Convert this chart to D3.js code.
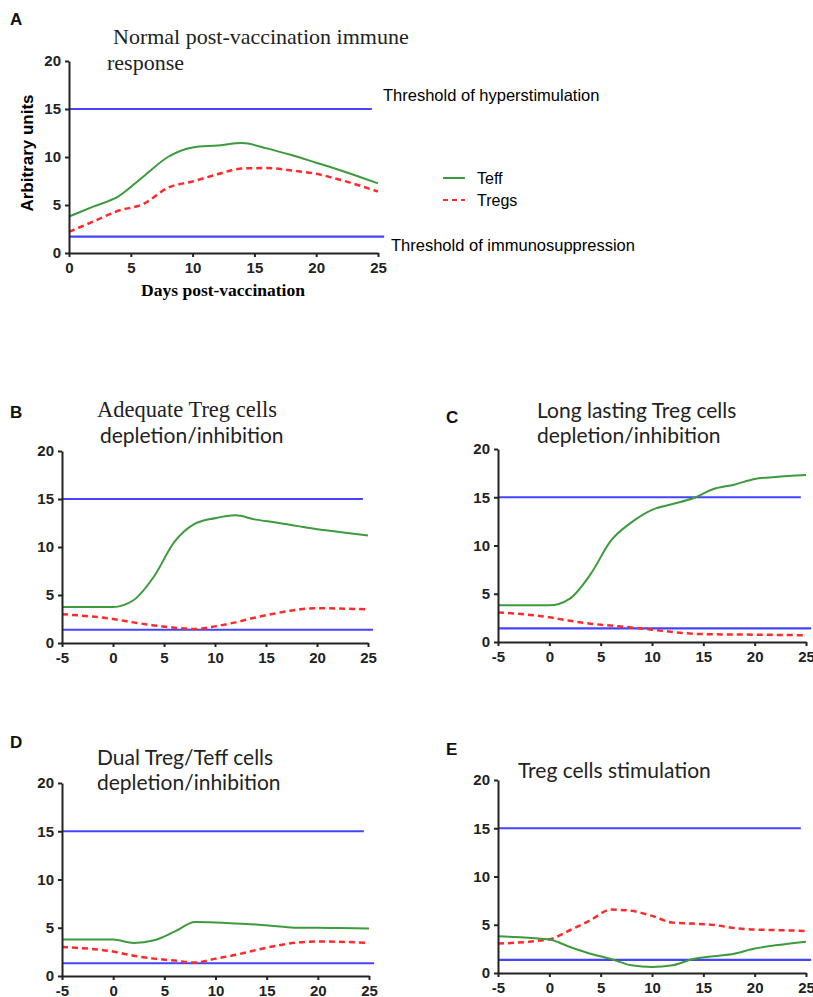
<!DOCTYPE html>
<html>
<head>
<meta charset="utf-8">
<script src="https://cdn.jsdelivr.net/npm/d3@7"></script>
<style>
  body { margin: 0; background: #fff; }
  svg { display: block; }
  .tick line, .domain { stroke: #222; stroke-width: 2; }
</style>
</head>
<body>
<div id="chart"></div>
<script>
// days sampled on every curve
const daysA = [0, 2, 4, 6, 8, 10, 12, 14, 16, 18, 20, 22, 25];
const days = [-5, 0, 2, 4, 6, 8, 10, 12, 14, 16, 18, 20, 22, 25];

// A - normal response
const teffA  = [3.8, 4.85, 5.9, 7.95, 10.0, 11.0, 11.2, 11.45, 10.9, 10.2, 9.4, 8.6, 7.25];
const tregsA = [2.2, 3.3, 4.4, 5.1, 6.8, 7.45, 8.2, 8.8, 8.85, 8.6, 8.25, 7.6, 6.4];
// B - adequate depletion
const teffB  = [3.75, 3.75, 4.45, 6.9, 10.5, 12.4, 13.0, 13.3, 12.85, 12.55, 12.2, 11.85, 11.6, 11.2];
const tregsB = [3.0, 2.5, 2.15, 1.83, 1.6, 1.45, 1.73, 2.15, 2.66, 3.1, 3.46, 3.63, 3.6, 3.5];
// C - long lasting depletion
const teffC  = [3.8, 3.8, 4.5, 7.0, 10.5, 12.4, 13.7, 14.3, 14.9, 15.85, 16.3, 16.9, 17.1, 17.3];
const tregsC = [3.07, 2.56, 2.2, 1.9, 1.7, 1.5, 1.28, 1.04, 0.86, 0.8, 0.78, 0.76, 0.74, 0.69];
// D - dual depletion
const teffD  = [3.78, 3.78, 3.43, 3.7, 4.6, 5.6, 5.55, 5.45, 5.34, 5.16, 5.0, 5.0, 4.97, 4.92];
const tregsD = [3.0, 2.53, 2.1, 1.8, 1.6, 1.39, 1.8, 2.2, 2.7, 3.15, 3.47, 3.57, 3.55, 3.43];
// E - Treg stimulation
const teffE  = [3.8, 3.46, 2.7, 2.0, 1.45, 0.8, 0.62, 0.8, 1.45, 1.73, 2.0, 2.53, 2.87, 3.25];
const tregsE = [3.05, 3.5, 4.43, 5.47, 6.57, 6.44, 5.92, 5.22, 5.12, 4.98, 4.67, 4.5, 4.45, 4.36];

const hyperThreshold = 15;
const immunoThreshold = [1.7, 1.38, 1.42, 1.32, 1.35];
const yTicks = [0, 5, 10, 15, 20];
const xTicksA = [0, 5, 10, 15, 20, 25];
const xTicks = [-5, 0, 5, 10, 15, 20, 25];

const green = "#3d9a3d", red = "#ff2a2a", blue = "#4444ff";

const svg = d3.select("#chart").append("svg")
    .attr("width", 813)
    .attr("height", 997);

// panel boxes in page pixels (plot area only)
const panels = [
  { id: "A", x: daysA, teff: teffA, tregs: tregsA, ticks: xTicksA, dom: [0, 25],  left: 69,  right: 378, top: 61,  bottom: 253 },
  { id: "B", x: days,  teff: teffB, tregs: tregsB, ticks: xTicks,  dom: [-5, 25], left: 62,  right: 368, top: 451, bottom: 643 },
  { id: "C", x: days,  teff: teffC, tregs: tregsC, ticks: xTicks,  dom: [-5, 25], left: 498, right: 806, top: 449, bottom: 642 },
  { id: "D", x: days,  teff: teffD, tregs: tregsD, ticks: xTicks,  dom: [-5, 25], left: 62,  right: 369, top: 783, bottom: 976 },
  { id: "E", x: days,  teff: teffE, tregs: tregsE, ticks: xTicks,  dom: [-5, 25], left: 498, right: 806, top: 780, bottom: 973 }
];

function styleTicks(sel) {
    sel.selectAll(".tick text")
        .style("font-family", "Liberation Sans, Arial, sans-serif")
        .style("font-weight", "bold")
        .style("font-size", "15px")
        .style("fill", "#222");
}

panels.forEach((p, i) => {
    const x = d3.scaleLinear().domain(p.dom).range([p.left, p.right]);
    const y = d3.scaleLinear().domain([0, 20]).range([p.bottom, p.top]);
    const g = svg.append("g");

    // threshold lines
    g.append("line")
        .attr("x1", x(p.dom[0])).attr("x2", x(24.5))
        .attr("y1", y(hyperThreshold)).attr("y2", y(hyperThreshold))
        .attr("stroke", blue).attr("stroke-width", 2);
    g.append("line")
        .attr("x1", x(p.dom[0])).attr("x2", x(25.5))
        .attr("y1", y(immunoThreshold[i])).attr("y2", y(immunoThreshold[i]))
        .attr("stroke", blue).attr("stroke-width", 2.2);

    const line = d3.line().curve(d3.curveMonotoneX);

    g.append("path")
        .attr("d", line(p.x.map((d, j) => [x(d), y(p.tregs[j])])))
        .attr("fill", "none").attr("stroke", red)
        .attr("stroke-width", 2.5).attr("stroke-dasharray", "6,4");
    g.append("path")
        .attr("d", line(p.x.map((d, j) => [x(d), y(p.teff[j])])))
        .attr("fill", "none").attr("stroke", green)
        .attr("stroke-width", 2);

    // axes (plain hyphen for negatives, like the original)
    g.append("g")
        .attr("transform", `translate(0,${p.bottom})`)
        .call(d3.axisBottom(x).tickValues(p.ticks).tickFormat(d => String(d))
            .tickSize(4).tickSizeOuter(0).tickPadding(5))
        .call(styleTicks);
    g.append("g")
        .attr("transform", `translate(${p.left},0)`)
        .call(d3.axisLeft(y).tickValues(yTicks).tickFormat(d => String(d))
            .tickSize(4).tickSizeOuter(0).tickPadding(4))
        .call(styleTicks);
});

// panel letters
const letters = [["A", 10, 25], ["B", 10, 418], ["C", 446, 423], ["D", 10, 748], ["E", 446, 755]];
svg.selectAll("text.letter").data(letters).enter().append("text")
    .attr("class", "letter")
    .attr("x", d => d[1]).attr("y", d => d[2])
    .style("font-family", "Liberation Sans, Arial, sans-serif")
    .style("font-size", "17px")
    .style("font-weight", "bold")
    .style("fill", "#111")
    .text(d => d[0]);

// titles
const serif = "Liberation Serif, Times New Roman, serif";
const sans = "Lato, Open Sans, sans-serif";
const titles = [
  ["Normal post-vaccination immune", 113, 44, serif, 22],
  ["response", 107, 70, serif, 22],
  ["Adequate Treg cells", 97, 417, serif, 22.5],
  ["depletion/inhibition", 100, 443, sans, 21],
  ["Long lasting Treg cells", 537, 418, sans, 21],
  ["depletion/inhibition", 537, 443, sans, 21],
  ["Dual Treg/Teff cells", 97, 765, sans, 21],
  ["depletion/inhibition", 97, 790, sans, 21],
  ["Treg cells stimulation", 518, 778, sans, 21]
];
svg.selectAll("text.title").data(titles).enter().append("text")
    .attr("class", "title")
    .attr("x", d => d[1]).attr("y", d => d[2])
    .style("font-family", d => d[3])
    .style("font-size", d => d[4] + "px")
    .style("fill", "#222")
    .text(d => d[0]);

// panel A axis titles
svg.append("text")
    .attr("transform", "translate(33,153) rotate(-90)")
    .attr("text-anchor", "middle")
    .style("font-family", "Liberation Sans, Arial, sans-serif")
    .style("font-weight", "bold").style("font-size", "17px")
    .text("Arbitrary units");
svg.append("text")
    .attr("x", 223).attr("y", 296)
    .attr("text-anchor", "middle")
    .style("font-family", serif)
    .style("font-weight", "bold").style("font-size", "17.5px")
    .text("Days post-vaccination");

// threshold labels
const labelFont = "Liberation Sans, Arial, sans-serif";
svg.append("text").attr("x", 383).attr("y", 101)
    .style("font-family", labelFont).style("font-size", "16.5px")
    .text("Threshold of hyperstimulation");
svg.append("text").attr("x", 391).attr("y", 251)
    .style("font-family", labelFont).style("font-size", "16.5px")
    .text("Threshold of immunosuppression");

// legend
const legend = [["Teff", green, null], ["Tregs", red, "5,4"]];
legend.forEach((d, i) => {
    const ly = 178 + i * 22;
    svg.append("line")
        .attr("x1", 443).attr("x2", 465).attr("y1", ly).attr("y2", ly)
        .attr("stroke", d[1]).attr("stroke-width", 2)
        .attr("stroke-dasharray", d[2]);
    svg.append("text").attr("x", 477).attr("y", ly + 6)
        .style("font-family", labelFont).style("font-size", "16px")
        .text(d[0]);
});
</script>
</body>
</html>
